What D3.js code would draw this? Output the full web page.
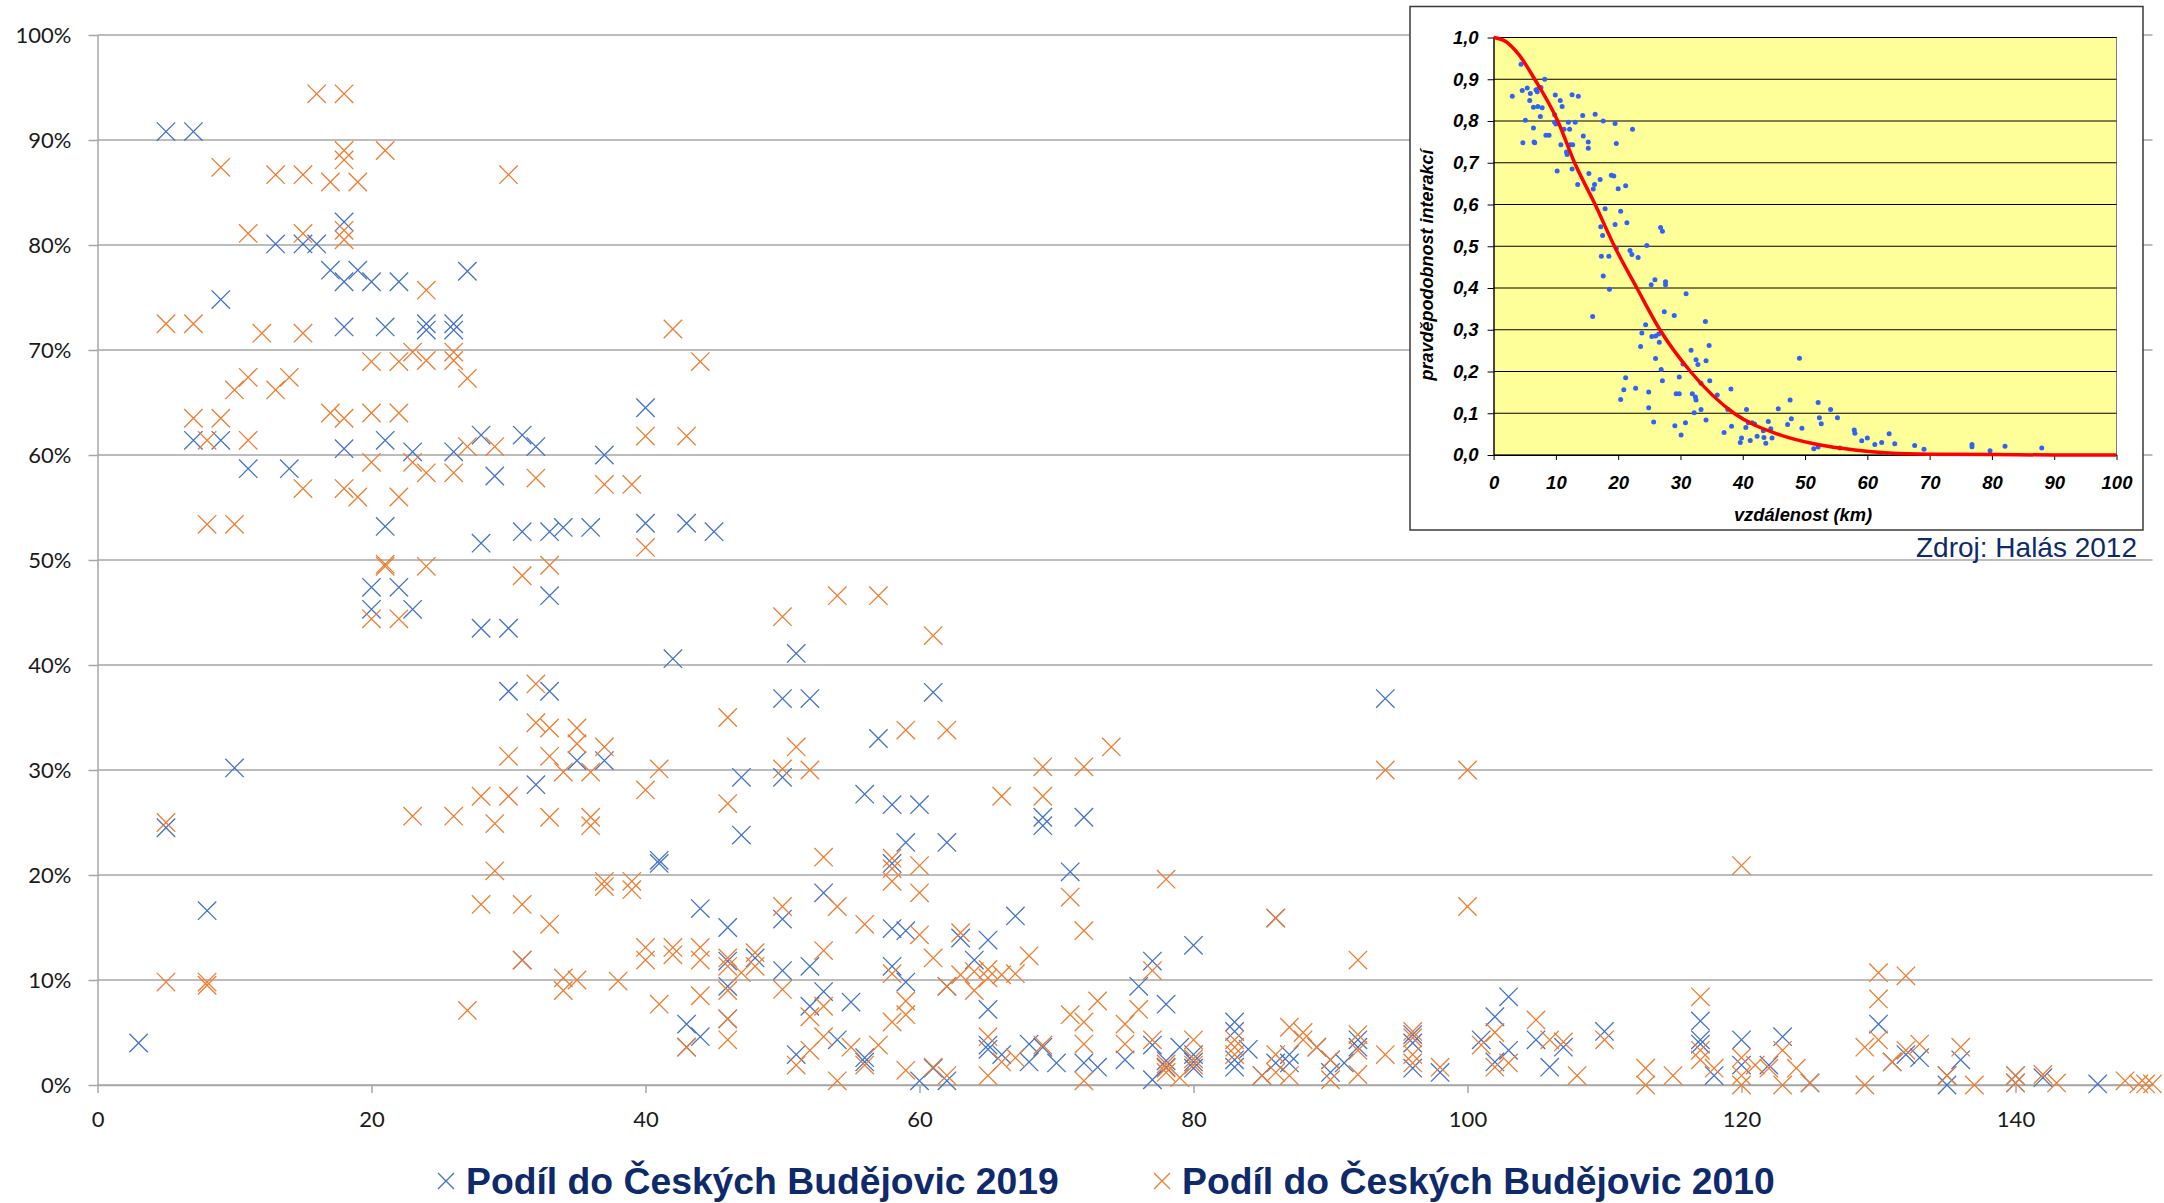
<!DOCTYPE html>
<html><head><meta charset="utf-8">
<script src="https://cdn.jsdelivr.net/npm/d3@7"></script>
<style>body{margin:0;background:#fff}svg{display:block}</style>
</head><body>
<svg id="c" width="2164" height="1203"></svg>
<script>
// ---------- DATA ----------
const seriesNames = ["Podíl do Českých Budějovic 2019", "Podíl do Českých Budějovic 2010"];
const xTicks = [0,20,40,60,80,100,120,140];
const yTicks = [0,10,20,30,40,50,60,70,80,90,100];

// distance (km), share (%) — 2019
const pts2019 = [
[5,90.8],[7,90.8],[9,74.8],[13,80.1],[15,80.1],[16,80.1],[18,82.2],[17,77.6],[18,76.5],[19,77.6],[20,76.5],[22,76.5],[27,77.5],[18,72.2],[21,72.2],[24,72.5],[24,71.9],[26,72.5],[26,71.9],
[7,61.4],[9,61.4],[11,58.7],[14,58.7],[18,60.6],[21,61.4],[23,60.3],[26,60.3],[28,61.9],[29,58.0],[31,61.9],[32,60.8],[21,53.2],[28,51.6],[31,52.7],[33,52.7],
[40,64.5],[37,60.0],[34,53.1],[36,53.1],[40,53.5],[43,53.5],[45,52.7],
[20,47.4],[22,47.4],[20,45.3],[23,45.3],[28,43.5],[30,43.5],[30,37.5],[33,37.5],[32,28.6],[10,30.2],[5,24.5],[8,16.6],[3,4.0],[31,11.9],[33,46.6],
[42,40.6],[51,41.1],[50,36.8],[52,36.8],[61,37.4],[57,33.0],[35,30.9],[37,30.9],[47,29.3],[50,29.3],[47,23.8],[56,27.7],[58,26.7],[60,26.7],[69,25.5],[69,24.7],[72,25.5],[59,23.1],[62,23.1],[41,21.1],[41,21.4],[58,21.1],[71,20.3],
[44,16.8],[46,15.0],[50,15.8],[53,18.3],[58,14.9],[59,14.7],[67,16.1],[46,11.8],[48,12.1],[50,10.9],[52,11.3],[63,14.0],[65,13.8],[64,11.9],[58,11.3],[59,9.8],[46,9.4],[53,8.9],[55,7.9],[52,7.5],[62,9.4],[65,7.2],[46,6.3],[43,5.8],[44,4.6],[43,3.6],[72,2.1],
[51,2.9],[54,4.3],[56,2.6],[56,2.2],[60,0.4],[61,1.6],[62,0.4],[65,3.8],[65,3.4],[66,2.9],[68,3.9],[69,3.6],[68,2.2],[70,2.1],
[94,36.8],[86,15.9],[80,13.3],[77,11.8],[76,9.4],[78,7.7],[75,2.4],[73,1.7],[83,6.0],[83,5.1],[83,2.4],[83,1.7],[84,3.4],[77,3.8],[77,0.5],[78,1.7],[78,2.3],[79,3.6],[80,2.9],[80,2.2],[80,1.6],[85,0.9],[86,2.1],[87,2.9],[87,2.1],[89,3.6],[90,2.4],[90,1.2],[91,2.1],[92,4.3],[92,3.6],[96,4.8],[96,4.0],[96,1.6],[98,1.2],[101,4.3],[102,6.5],[103,8.4],[102,2.2],[103,3.3],[105,4.3],[106,1.7],[107,3.6],[110,5.1],
[117,6.1],[117,4.3],[117,3.9],[118,0.9],[120,4.3],[120,1.9],[122,1.9],[123,4.6],[125,0.2],[130,5.8],[131,2.2],[132,2.9],[133,2.6],[135,0.9],[135,0.0],[136,2.4],[140,0.9],[140,0.2],[142,0.7],[146,0.1]
];

// distance (km), share (%) — 2010
const pts2010 = [
[16,94.4],[18,94.4],[9,87.4],[13,86.7],[15,86.7],[17,86.0],[19,86.0],[18,89.0],[18,88.1],[21,89.0],
[30,86.7],[11,81.1],[15,81.1],[18,81.4],[18,80.5],[5,72.5],[7,72.5],[12,71.6],[15,71.6],[24,75.7],
[20,68.9],[22,68.9],[23,69.8],[24,69.0],[26,69.8],[26,69.0],[27,67.3],[10,66.2],[11,67.4],[13,66.2],
[14,67.4],[7,63.5],[9,63.5],[8,61.4],[11,61.4],[17,64.0],[18,63.5],[20,64.0],[22,64.0],[20,59.3],
[23,59.3],[24,58.3],[26,58.3],[27,60.8],[29,60.8],[32,57.8],[15,56.8],[18,56.8],[19,56.0],[22,56.0],
[8,53.4],[10,53.4],
[42,72.0],[44,68.9],[40,61.8],[43,61.8],[37,57.2],[39,57.2],[40,51.2],
[21,49.4],[21,49.6],[24,49.4],[31,48.5],[33,49.5],[20,44.4],[22,44.4],[32,38.2],[32,34.5],[33,34.0],
[30,31.3],[33,31.3],[28,27.5],[30,27.5],[23,25.6],[26,25.6],[29,24.9],[33,25.5],[5,25.0],[29,20.4],
[28,17.2],[31,17.2],[33,15.3],[31,11.9],[5,9.8],[8,9.8],[8,9.5],[27,7.1],
[54,46.6],[57,46.6],[50,44.6],[61,42.8],[46,35.0],[59,33.8],[62,33.8],[35,34.0],[35,32.5],[37,32.2],
[34,29.8],[36,29.8],[41,30.1],[50,30.1],[52,30.0],[51,32.2],[40,28.1],[46,26.8],[66,27.5],[69,30.3],
[72,30.3],[69,27.5],[36,25.5],[36,24.7],[53,21.7],[58,21.6],[58,20.6],[58,19.4],[60,20.9],[60,18.3],
[71,17.9],[37,19.4],[37,18.9],[39,19.4],[39,18.6],[50,17.0],[54,17.0],[56,15.3],[60,14.3],[72,14.7],
[40,13.1],[40,11.9],[42,13.1],[42,12.4],[44,13.1],[44,11.9],[46,12.1],[46,11.3],[48,12.6],[48,11.3],
[47,10.7],[53,12.8],[61,12.1],[63,14.5],[68,12.3],[63,10.5],[64,10.8],[65,11.0],[66,10.5],[67,10.6],
[65,10.2],[34,10.2],[35,10.0],[34,9.0],[38,9.9],[58,10.6],[50,9.1],[46,9.0],[41,7.7],[44,8.5],
[52,6.5],[53,7.5],[62,9.4],[64,9.0],[59,8.0],[59,6.7],[58,6.0],[46,4.3],[43,3.6],[71,6.7],
[72,6.0],[72,3.9],[72,0.4],[51,1.9],[52,3.3],[53,4.6],[55,3.6],[56,1.9],[57,3.8],[54,0.4],
[59,1.4],[61,1.7],[62,0.9],[65,4.6],[65,0.9],[66,2.2],[67,2.6],[69,3.8],[46,6.3],
[74,32.2],[94,30.0],[100,30.0],[78,19.6],[86,15.9],[100,17.0],[92,11.9],[77,10.9],[73,8.0],[76,7.2],
[75,5.8],[75,3.9],[83,4.3],[83,3.6],[83,2.9],[77,4.3],[78,2.0],[78,1.6],[78,1.2],[79,0.7],
[80,4.3],[80,2.5],[80,1.9],[85,0.9],[86,2.9],[86,1.2],[87,5.5],[88,5.0],[87,0.9],[88,4.3],
[89,3.6],[90,2.4],[90,0.5],[92,4.8],[92,3.3],[92,1.0],[94,2.9],[96,5.1],[96,4.5],[96,2.1],
[96,2.9],[98,1.7],[101,3.8],[102,5.0],[102,1.7],[103,2.1],[105,6.2],[106,4.3],[107,4.1],[108,0.9],
[110,4.3],
[120,20.9],[113,1.6],[113,0.0],[115,0.9],[117,8.4],[117,3.3],[117,2.4],[118,1.6],[120,2.6],[120,0.9],
[120,0.0],[121,1.9],[122,1.6],[123,3.3],[124,1.6],[123,0.0],[125,0.2],[129,0.0],[129,3.6],[130,10.7],
[130,8.2],[130,4.3],[132,10.4],[131,2.2],[132,3.3],[133,3.9],[135,0.9],[136,3.6],[137,0.0],[140,0.9],
[140,0.2],[142,1.0],[143,0.2],[148,0.4],[149,0.1],[149.5,0.1],[150,0.1]
];

// inset (Halás 2012): distance (km), probability
const insetXTicks = [0,10,20,30,40,50,60,70,80,90,100];
const insetYTicks = [0,0.1,0.2,0.3,0.4,0.5,0.6,0.7,0.8,0.9,1.0];
const insetPts = [
[3.0,.859],[4.4,.936],[4.6,.873],[5.1,.802],[4.7,.748],[5.4,.879],[5.8,.849],[5.9,.866],[6.4,.833],[6.4,.783],[6.5,.75],[6.6,.748],[6.8,.875],[7.0,.87],[7.3,.88],[7.6,.88],[7.1,.835],[7.5,.811],[7.8,.832],[8.2,.9],
[8.4,.766],[8.9,.766],[9.9,.862],[9.8,.815],[9.8,.797],[10.0,.793],[10.2,.68],[10.7,.849],[11.0,.835],[10.8,.743],[11.3,.78],[11.7,.726],[11.8,.72],[12.0,.797],[12.2,.78],[12.3,.743],[12.7,.743],[12.6,.863],[12.6,.685],[13.1,.797],
[13.5,.648],[13.6,.859],[14.3,.813],[14.4,.764],[15.2,.75],[15.2,.735],[15.3,.674],[15.9,.332],[16.0,.637],[16.2,.648],[16.3,.816],[17.1,.66],[17.2,.547],[17.3,.476],[17.5,.526],[17.6,.8],[17.6,.429],[17.9,.59],[18.5,.476],[18.6,.397],
[18.9,.67],[19.3,.668],[19.5,.794],[19.5,.552],[19.7,.746],[19.7,.495],[20.0,.638],[20.4,.584],[20.4,.133],[20.9,.156],[21.2,.185],[21.2,.645],[21.4,.556],[21.9,.49],[22.2,.48],[22.3,.78],[23.2,.473],[22.8,.16],[23.6,.26],[23.8,.292],
[24.4,.312],[24.6,.502],[24.9,.151],[24.9,.113],[25.3,.408],[25.4,.284],[25.7,.079],[25.9,.42],[26.0,.231],[26.0,.285],[26.5,.29],[26.6,.27],[26.8,.545],[27.1,.536],[26.9,.205],[27.1,.178],[27.4,.343],[27.6,.415],[27.6,.408],[29.0,.334],
[29.1,.07],[29.3,.147],[29.8,.147],[29.8,.187],[30.1,.048],[30.4,.218],[30.8,.077],[30.9,.386],[31.7,.251],[31.9,.147],[32.2,.101],[32.4,.139],[32.5,.132],[32.5,.228],[32.8,.217],[33.3,.172],[33.3,.109],[34.0,.32],[34.1,.226],[34.1,.084],
[34.6,.262],[34.7,.178],[35.9,.144],[37.0,.054],[37.6,.109],[38.1,.158],[38.2,.069],[39.6,.03],[39.8,.041],[40.5,.066],[40.6,.109],[40.9,.077],[41.2,.035],[41.5,.077],[41.9,.074],[42.3,.045],[43.3,.058],[43.4,.042],[43.7,.028],[44.1,.08],
[44.5,.063],[44.7,.041],[45.7,.111],[47.2,.073],[47.6,.132],[47.8,.087],[49.1,.232],[49.5,.064],[51.4,.015],[52.1,.019],[52.1,.126],[52.3,.089],[52.6,.075],[54.1,.109],[55.2,.089],[55.6,.017],[57.9,.06],[58.0,.052],[59.1,.034],[60.0,.041],
[61.2,.025],[62.3,.03],[63.5,.051],[64.4,.027],[67.6,.023],[69.1,.014],[76.8,.02],[76.8,.025],[79.7,.01],[82.1,.021],[88.0,.017]
];
// fitted curve
const curveDist = [0,2,4,6.6,10.3,13,16.3,19.4,23,26.7,31.6,38.6,45.6,52,58,63.5,70,80,90,100];
const curveProb = [1.0,0.99,0.96,0.9,0.8,0.7,0.6,0.5,0.4,0.3,0.2,0.1,0.05,0.025,0.012,0.005,0.002,0.001,0,0];

// ---------- DRAW ----------
const svg = d3.select("#c");
const blue = "#4472C4", orange = "#ED7D31", navy = "#0f2a6b";
const FONT = "Lato, 'Open Sans', sans-serif";
const AR = "'Liberation Sans', Arial, sans-serif";

const x = d3.scaleLinear().domain([0,150]).range([97.5,2152.5]);
const y = d3.scaleLinear().domain([0,100]).range([1085,35]);

// gridlines
svg.append("g").selectAll("line").data(yTicks).join("line")
  .attr("x1", x(0)).attr("x2", x(150))
  .attr("y1", d=>y(d)).attr("y2", d=>y(d))
  .attr("stroke","#a6a6a6").attr("stroke-width",1.5);

// y axis
const gy = svg.append("g").attr("transform",`translate(${x(0)},0)`)
  .call(d3.axisLeft(y).tickValues(yTicks).tickSize(9).tickSizeOuter(0).tickPadding(17).tickFormat(d=>d+"%"));
// x axis
const gx = svg.append("g").attr("transform",`translate(0,${y(0)})`)
  .call(d3.axisBottom(x).tickValues(xTicks).tickSize(8).tickSizeOuter(0).tickPadding(18));
[gx,gy].forEach(g=>{
  g.selectAll("path.domain").attr("stroke","#a6a6a6").attr("stroke-width",1.5);
  g.selectAll(".tick line").attr("stroke","#a6a6a6").attr("stroke-width",1.5);
  g.selectAll("text").attr("font-family",FONT).attr("font-size",22).attr("fill","#1a1a1a");
});

const xMark = s => `M${-s},${-s}L${s},${s}M${-s},${s}L${s},${-s}`;

function drawSeries(data, color){
  svg.append("g").selectAll("path").data(data).join("path")
    .attr("transform", d=>`translate(${x(d[0])},${y(d[1])})`)
    .attr("d", xMark(9.2))
    .attr("fill","none").attr("stroke",color).attr("stroke-width",1.3);
}
drawSeries(pts2019, blue);
drawSeries(pts2010, orange);

// legend
const legend = [{name:seriesNames[0], color:blue, x:446},{name:seriesNames[1], color:orange, x:1162}];
const lg = svg.append("g").selectAll("g").data(legend).join("g")
  .attr("transform", d=>`translate(${d.x},1181)`);
lg.append("path").attr("d", xMark(8)).attr("fill","none").attr("stroke",d=>d.color).attr("stroke-width",1.3);
lg.append("text").attr("x",20).attr("y",13).text(d=>d.name)
  .attr("font-family",AR).attr("font-weight","bold").attr("font-size",37.3).attr("fill",navy);

// ---------- INSET ----------
const inset = svg.append("g");
inset.append("rect").attr("x",1410).attr("y",6.5).attr("width",733).attr("height",523.5)
  .attr("fill","#fff").attr("stroke","#3a3a3a").attr("stroke-width",1.5);

const ix = d3.scaleLinear().domain([0,100]).range([1493.6,2116.5]);
const iy = d3.scaleLinear().domain([0,1]).range([455,37.5]);

inset.append("rect").attr("x",ix(0)).attr("y",iy(1)).attr("width",ix(100)-ix(0)).attr("height",iy(0)-iy(1))
  .attr("fill","#FFFF99").attr("stroke","#808080").attr("stroke-width",1);
inset.append("g").selectAll("line").data(insetYTicks).join("line")
  .attr("x1",ix(0)).attr("x2",ix(100)).attr("y1",d=>iy(d)).attr("y2",d=>iy(d))
  .attr("stroke","#000").attr("stroke-width",1);

const fmtComma = d => d3.format(".1f")(d).replace(".",",");
const igy = inset.append("g").attr("transform",`translate(${ix(0)},0)`)
  .call(d3.axisLeft(iy).tickValues(insetYTicks).tickSize(6).tickSizeOuter(0).tickPadding(9).tickFormat(fmtComma));
const igx = inset.append("g").attr("transform",`translate(0,${iy(0)})`)
  .call(d3.axisBottom(ix).tickValues(insetXTicks).tickSize(5).tickSizeOuter(0).tickPadding(16));
[igx,igy].forEach(g=>{
  g.selectAll("path.domain").attr("stroke","#000").attr("stroke-width",1.2);
  g.selectAll(".tick line").attr("stroke","#000").attr("stroke-width",1);
  g.selectAll("text").attr("font-family",AR).attr("font-weight","bold").attr("font-style","italic")
    .attr("font-size",18.5).attr("fill","#000");
});

inset.append("g").selectAll("circle").data(insetPts).join("circle")
  .attr("cx",d=>ix(d[0])).attr("cy",d=>iy(d[1])).attr("r",2.5).attr("fill","#2f62f5");

const curve = d3.zip(curveDist, curveProb);
inset.append("path").datum(curve)
  .attr("d", d3.line().x(d=>ix(d[0])).y(d=>iy(d[1])).curve(d3.curveMonotoneX))
  .attr("fill","none").attr("stroke","#ff0000").attr("stroke-width",3.5);

inset.append("text").attr("x",1803).attr("y",521).attr("text-anchor","middle")
  .attr("font-family",AR).attr("font-weight","bold").attr("font-style","italic").attr("font-size",18.3)
  .text("vzdálenost (km)");
inset.append("text").attr("transform","translate(1433,265) rotate(-90)").attr("text-anchor","middle")
  .attr("font-family",AR).attr("font-weight","bold").attr("font-style","italic").attr("font-size",18)
  .text("pravděpodobnost interakcí");

svg.append("text").attr("x",2137).attr("y",557).attr("text-anchor","end")
  .attr("font-family",AR).attr("font-size",28).attr("fill",navy).text("Zdroj: Halás 2012");
</script>
</body></html>
